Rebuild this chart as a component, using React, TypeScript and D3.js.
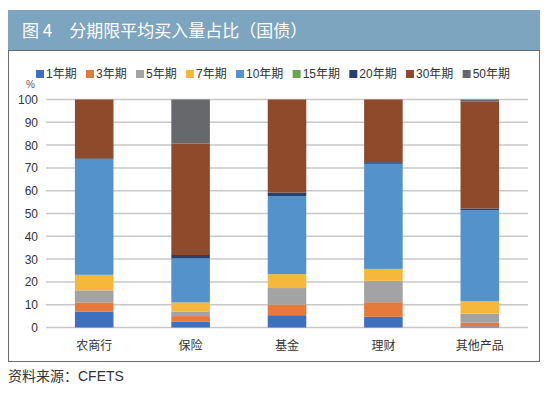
import { useEffect, useRef } from 'react';
import * as d3 from 'd3';

const categories = ['农商行', '保险', '基金', '理财', '其他产品'];
const seriesNames = ['1年期', '3年期', '5年期', '7年期', '10年期', '15年期', '20年期', '30年期', '50年期'];
const seriesColors = ['#3f6fbf', '#e57a3c', '#a3a3a3', '#f5b83a', '#5492cc', '#6aa84f', '#27406f', '#8e4a2b', '#67686b'];

// values per category, in series order (percent)
const y1 = [7.0, 2.5, 5.4, 4.7, 0.5];
const y3 = [4.0, 2.5, 4.7, 6.4, 1.7];
const y5 = [5.3, 2.0, 7.2, 9.4, 3.9];
const y7 = [6.8, 4.0, 6.1, 5.2, 5.4];
const y10 = [50.8, 19.3, 34.2, 46.1, 40.0];
const y15 = [0, 0, 0, 0, 0];
const y20 = [0.3, 1.5, 1.6, 0.7, 0.7];
const y30 = [25.8, 48.9, 40.8, 27.5, 46.8];
const y50 = [0, 19.3, 0, 0, 1.0];
const seriesValues = [y1, y3, y5, y7, y10, y15, y20, y30, y50];
const yTicks = [0, 10, 20, 30, 40, 50, 60, 70, 80, 90, 100];

const FONT = '"Noto Sans CJK SC", "Noto Sans", sans-serif';
const LATIN = '"Liberation Sans", "Noto Sans CJK SC", sans-serif';

export default function App() {
  const ref = useRef<SVGSVGElement>(null);

  useEffect(() => {
    if (!ref.current) return;
    const svg = d3.select(ref.current);
    svg.selectAll('*').remove();

    svg.append('rect').attr('width', 550).attr('height', 394).attr('fill', '#fff');

    // title bar
    svg.append('rect').attr('x', 8).attr('y', 10).attr('width', 532).attr('height', 40).attr('fill', '#7ea5bf');
    svg.append('text').attr('x', 22).attr('y', 37).attr('fill', '#fff').attr('font-size', 17)
      .attr('font-family', FONT).text('图 4　分期限平均买入量占比（国债）');

    // frame
    svg.append('rect').attr('x', 8.5).attr('y', 50.5).attr('width', 531).attr('height', 311)
      .attr('fill', 'none').attr('stroke', '#6b6b6b').attr('stroke-width', 1);

    const margin = { left: 46, right: 528, top: 99.5, bottom: 327.5 };
    const x = d3.scaleBand().domain(categories).range([margin.left, margin.right]).paddingInner(0.6).paddingOuter(0.3);
    const y = d3.scaleLinear().domain([0, 100]).range([margin.bottom, margin.top]);

    const grid = svg.append('g');
    grid.selectAll('line').data(yTicks).join('line')
      .attr('x1', margin.left).attr('x2', margin.right)
      .attr('y1', (d) => y(d)).attr('y2', (d) => y(d))
      .attr('stroke', '#c8c8c8').attr('stroke-width', 1.5);
    grid.selectAll('text').data(yTicks).join('text')
      .attr('x', 38).attr('y', (d) => y(d) + 4.5).attr('text-anchor', 'end')
      .attr('font-size', 12).attr('font-family', LATIN).attr('fill', '#333').text((d) => d);

    svg.append('text').attr('x', 26).attr('y', 88).attr('font-size', 10).attr('font-family', LATIN)
      .attr('fill', '#555').text('%');

    // stacked bars
    const rows = categories.map((c, i) => {
      const r: Record<string, number | string> = { cat: c };
      seriesNames.forEach((s, k) => { r[s] = seriesValues[k][i]; });
      return r;
    });
    const stacked = d3.stack<Record<string, number | string>>().keys(seriesNames)(rows);
    const bars = svg.append('g');
    stacked.forEach((layer, k) => {
      bars.append('g').attr('fill', seriesColors[k]).selectAll('rect').data(layer).join('rect')
        .attr('x', (d) => x(d.data.cat as string) ?? 0)
        .attr('width', x.bandwidth())
        .attr('y', (d) => y(d[1]))
        .attr('height', (d) => Math.max(0, y(d[0]) - y(d[1])));
    });

    // category labels
    svg.append('g').selectAll('text').data(categories).join('text')
      .attr('x', (d) => (x(d) ?? 0) + x.bandwidth() / 2).attr('y', 350).attr('text-anchor', 'middle')
      .attr('font-size', 12).attr('font-family', FONT).attr('fill', '#333').text((d) => d);

    // legend
    const legend = svg.append('g');
    const items = seriesNames.map((s, k) => {
      const g = legend.append('g');
      g.append('rect').attr('width', 8).attr('height', 8).attr('y', -8).attr('fill', seriesColors[k]);
      const t = g.append('text').attr('x', 10).attr('font-size', 12).attr('font-family', LATIN)
        .attr('fill', '#333').text(s);
      const w = 10 + (t.node() as SVGTextElement).getComputedTextLength();
      return { g, w };
    });
    const total = d3.sum(items, (d) => d.w);
    const gap = (510 - 36 - total) / (items.length - 1);
    let cx = 36;
    items.forEach((it) => {
      it.g.attr('transform', `translate(${cx},78)`);
      cx += it.w + gap;
    });

    // source
    svg.append('text').attr('x', 8).attr('y', 381).attr('font-size', 14).attr('font-family', LATIN)
      .attr('fill', '#333').text('资料来源：CFETS');
  }, []);

  return (
    <div style={{ margin: -8 }}>
      <svg ref={ref} width={550} height={394} style={{ display: 'block' }} />
    </div>
  );
}
